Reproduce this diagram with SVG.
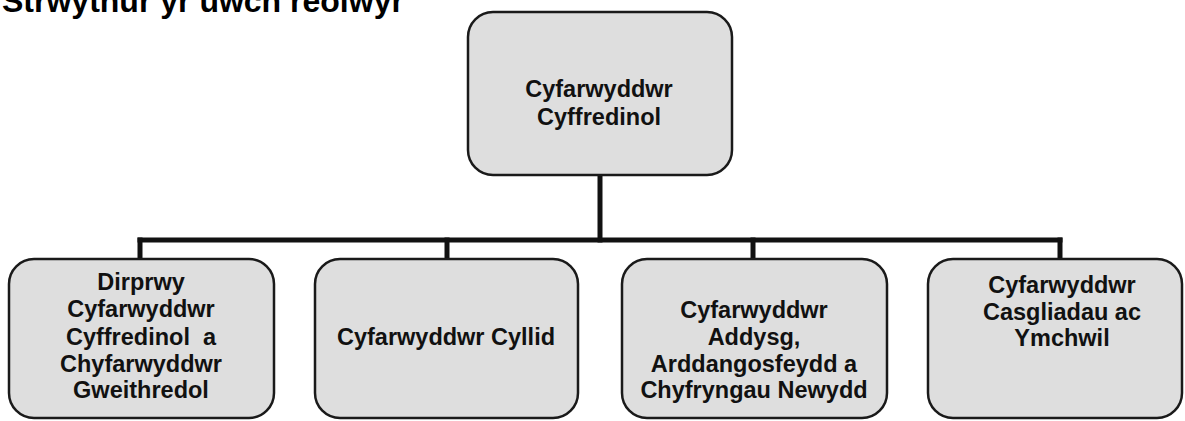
<svg xmlns="http://www.w3.org/2000/svg" width="1185" height="421" viewBox="0 0 1185 421">
<style>
.box{fill:#dedede;stroke:#1a1a1a;stroke-width:2.5}
.t{font-family:"Liberation Sans",Arial,sans-serif;font-weight:bold;font-size:23.5px;fill:#111;text-anchor:middle}
.title{font-family:"Liberation Sans",Arial,sans-serif;font-weight:bold;font-size:32px;fill:#000}
.c{stroke:#111;stroke-width:5;fill:none;stroke-linecap:square}
</style>
<rect width="1185" height="421" fill="#ffffff"/>
<text class="title" x="2" y="12">Strwythur yr uwch reolwyr</text>
<g id="connectors">
<line class="c" x1="600" y1="176" x2="600" y2="240"/>
<line class="c" x1="140" y1="240" x2="1060" y2="240"/>
<line class="c" x1="140" y1="240" x2="140" y2="258"/>
<line class="c" x1="447" y1="240" x2="447" y2="258"/>
<line class="c" x1="753" y1="240" x2="753" y2="258"/>
<line class="c" x1="1060" y1="240" x2="1060" y2="258"/>
</g>
<g id="n0">
<rect class="box" x="468" y="12" width="264" height="163" rx="25"/>
<text class="t" x="599" y="97">Cyfarwyddwr</text>
<text class="t" x="599" y="125">Cyffredinol</text>
</g>
<g id="n1">
<rect class="box" x="9" y="259" width="265" height="159" rx="25"/>
<text class="t" x="141" y="290">Dirprwy</text>
<text class="t" x="141" y="317">Cyfarwyddwr</text>
<text class="t" x="141" y="345" xml:space="preserve">Cyffredinol  a</text>
<text class="t" x="141" y="372">Chyfarwyddwr</text>
<text class="t" x="141" y="398">Gweithredol</text>
</g>
<g id="n2">
<rect class="box" x="315" y="259" width="263" height="159" rx="25"/>
<text class="t" x="446" y="345">Cyfarwyddwr Cyllid</text>
</g>
<g id="n3">
<rect class="box" x="622" y="259" width="265" height="159" rx="25"/>
<text class="t" x="754" y="318">Cyfarwyddwr</text>
<text class="t" x="754" y="345">Addysg,</text>
<text class="t" x="754" y="372">Arddangosfeydd a</text>
<text class="t" x="754" y="398">Chyfryngau Newydd</text>
</g>
<g id="n4">
<rect class="box" x="928" y="259" width="254" height="159" rx="25"/>
<text class="t" x="1062" y="293">Cyfarwyddwr</text>
<text class="t" x="1062" y="320">Casgliadau ac</text>
<text class="t" x="1062" y="346">Ymchwil</text>
</g>
</svg>
